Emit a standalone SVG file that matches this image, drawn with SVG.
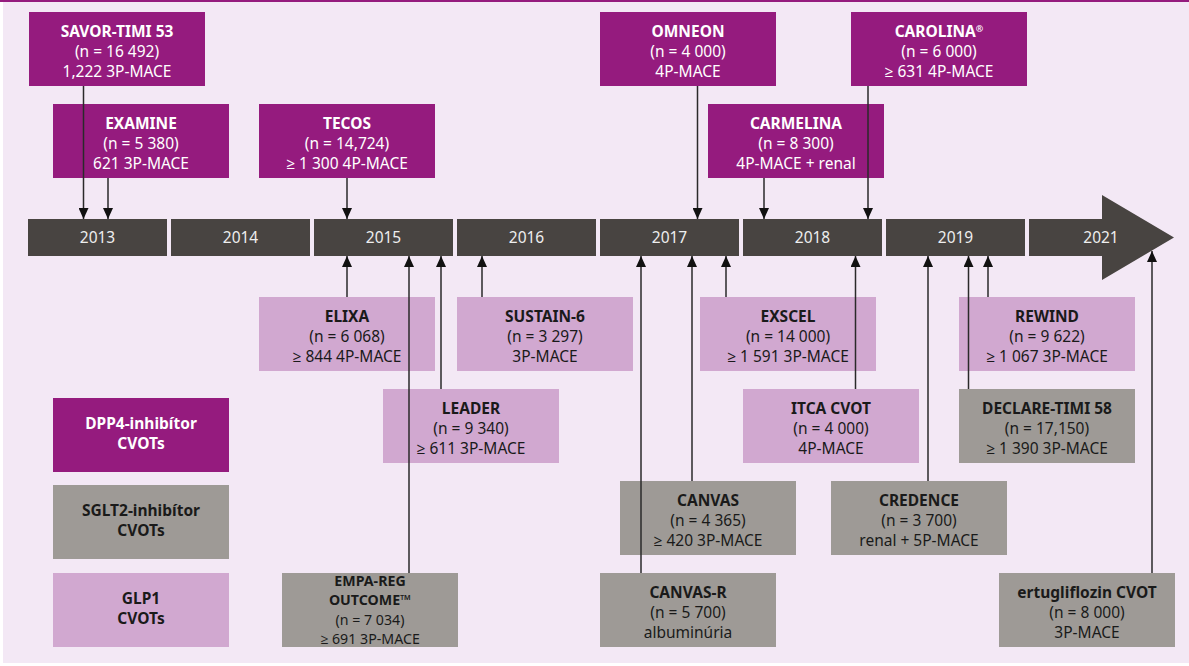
<svg xmlns="http://www.w3.org/2000/svg" width="1189" height="666" viewBox="0 0 1189 666">
<style>
text{font-family:"Noto Sans","Open Sans","Liberation Sans",sans-serif;font-size:15.5px;text-anchor:middle}
.b{font-weight:bold}
.dpp{fill:#951B7E}
.sglt{fill:#9E9A96}
.glp{fill:#D1A8D0}
.w{fill:#ffffff}
.k{fill:#1a1a1a}
.seg{fill:#484441}
.yr{fill:#eeeeee;font-size:15.5px}
.sm{font-size:14.2px}
.con line{stroke:#2a2a2a;stroke-width:1.5;marker-end:url(#ah)}
</style>
<defs>
<marker id="ah" viewBox="0 0 11 10" refX="11" refY="5" markerWidth="11" markerHeight="10" orient="auto" markerUnits="userSpaceOnUse"><path d="M0,0 L11,5 L0,10 z" fill="#111"/></marker>
</defs>
<rect x="0" y="0" width="1189" height="666" fill="#ffffff"/>
<rect x="3" y="0" width="1186" height="663" fill="#F3E8F5"/>
<rect x="0" y="0" width="1189" height="2" fill="#951B7E"/>

<g id="timeline">
<rect class="seg" x="28" y="219" width="139" height="37"/>
<rect class="seg" x="171" y="219" width="139" height="37"/>
<rect class="seg" x="314" y="219" width="139" height="37"/>
<rect class="seg" x="457" y="219" width="139" height="37"/>
<rect class="seg" x="600" y="219" width="139" height="37"/>
<rect class="seg" x="743" y="219" width="139" height="37"/>
<rect class="seg" x="886" y="219" width="139" height="37"/>
<polygon class="seg" points="1029,219 1102,219 1102,195 1174,237.5 1102,280 1102,256 1029,256"/>
<text class="yr" x="97.5" y="243">2013</text>
<text class="yr" x="240.5" y="243">2014</text>
<text class="yr" x="383.5" y="243">2015</text>
<text class="yr" x="526.5" y="243">2016</text>
<text class="yr" x="669.5" y="243">2017</text>
<text class="yr" x="812.5" y="243">2018</text>
<text class="yr" x="955.5" y="243">2019</text>
<text class="yr" x="1101" y="243">2021</text>
</g>

<g id="savor"><rect class="dpp" x="29" y="12" width="176" height="74"/>
<text class="w b" x="117" y="36.5">SAVOR-TIMI 53</text><text class="w" x="117" y="56.5">(n = 16 492)</text><text class="w" x="117" y="76.5">1,222 3P-MACE</text></g>
<g id="examine"><rect class="dpp" x="53" y="104" width="176" height="74"/>
<text class="w b" x="141" y="128.5">EXAMINE</text><text class="w" x="141" y="148.5">(n = 5 380)</text><text class="w" x="141" y="168.5">621 3P-MACE</text></g>
<g id="tecos"><rect class="dpp" x="259" y="104" width="176" height="74"/>
<text class="w b" x="347" y="128.5">TECOS</text><text class="w" x="347" y="148.5">(n = 14,724)</text><text class="w" x="347" y="168.5">≥ 1 300 4P-MACE</text></g>
<g id="omneon"><rect class="dpp" x="600" y="12" width="176" height="74"/>
<text class="w b" x="688" y="36.5">OMNEON</text><text class="w" x="688" y="56.5">(n = 4 000)</text><text class="w" x="688" y="76.5">4P-MACE</text></g>
<g id="carmelina"><rect class="dpp" x="708" y="104" width="176" height="74"/>
<text class="w b" x="796" y="128.5">CARMELINA</text><text class="w" x="796" y="148.5">(n = 8 300)</text><text class="w" x="796" y="168.5">4P-MACE + renal</text></g>
<g id="carolina"><rect class="dpp" x="851" y="12" width="176" height="74"/>
<text class="w b" x="939" y="36.5">CAROLINA<tspan font-size="9" dy="-5">®</tspan></text><text class="w" x="939" y="56.5">(n = 6 000)</text><text class="w" x="939" y="76.5">≥ 631 4P-MACE</text></g>

<g id="elixa"><rect class="glp" x="259" y="297" width="176" height="74"/>
<text class="k b" x="347" y="321.5">ELIXA</text><text class="k" x="347" y="341.5">(n = 6 068)</text><text class="k" x="347" y="361.5">≥ 844 4P-MACE</text></g>
<g id="sustain6"><rect class="glp" x="457" y="297" width="176" height="74"/>
<text class="k b" x="545" y="321.5">SUSTAIN-6</text><text class="k" x="545" y="341.5">(n = 3 297)</text><text class="k" x="545" y="361.5">3P-MACE</text></g>
<g id="leader"><rect class="glp" x="383" y="389" width="176" height="74"/>
<text class="k b" x="471" y="413.5">LEADER</text><text class="k" x="471" y="433.5">(n = 9 340)</text><text class="k" x="471" y="453.5">≥ 611 3P-MACE</text></g>
<g id="exscel"><rect class="glp" x="700" y="297" width="176" height="74"/>
<text class="k b" x="788" y="321.5">EXSCEL</text><text class="k" x="788" y="341.5">(n = 14 000)</text><text class="k" x="788" y="361.5">≥ 1 591 3P-MACE</text></g>
<g id="itca"><rect class="glp" x="743" y="389" width="176" height="74"/>
<text class="k b" x="831" y="413.5">ITCA CVOT</text><text class="k" x="831" y="433.5">(n = 4 000)</text><text class="k" x="831" y="453.5">4P-MACE</text></g>
<g id="rewind"><rect class="glp" x="959" y="297" width="176" height="74"/>
<text class="k b" x="1047" y="321.5">REWIND</text><text class="k" x="1047" y="341.5">(n = 9 622)</text><text class="k" x="1047" y="361.5">≥ 1 067 3P-MACE</text></g>
<g id="declare"><rect class="sglt" x="959" y="389" width="176" height="74"/>
<text class="k b" x="1047" y="413.5">DECLARE-TIMI 58</text><text class="k" x="1047" y="433.5">(n = 17,150)</text><text class="k" x="1047" y="453.5">≥ 1 390 3P-MACE</text></g>
<g id="canvas"><rect class="sglt" x="620" y="481" width="176" height="74"/>
<text class="k b" x="708" y="505.5">CANVAS</text><text class="k" x="708" y="525.5">(n = 4 365)</text><text class="k" x="708" y="545.5">≥ 420 3P-MACE</text></g>
<g id="credence"><rect class="sglt" x="831" y="481" width="176" height="74"/>
<text class="k b" x="919" y="505.5">CREDENCE</text><text class="k" x="919" y="525.5">(n = 3 700)</text><text class="k" x="919" y="545.5">renal + 5P-MACE</text></g>
<g id="canvasr"><rect class="sglt" x="600" y="573" width="176" height="74"/>
<text class="k b" x="688" y="597.5">CANVAS-R</text><text class="k" x="688" y="617.5">(n = 5 700)</text><text class="k" x="688" y="637.5">albuminúria</text></g>
<g id="ertugliflozin"><rect class="sglt" x="999" y="573" width="176" height="74"/>
<text class="k b" x="1087" y="597.5">ertugliflozin CVOT</text><text class="k" x="1087" y="617.5">(n = 8 000)</text><text class="k" x="1087" y="637.5">3P-MACE</text></g>
<g id="empareg"><rect class="sglt" x="282" y="573" width="176" height="74"/>
<text class="k b sm" x="370" y="585.5">EMPA-REG</text><text class="k b sm" x="370" y="605">OUTCOME™</text><text class="k sm" x="370" y="624.5">(n = 7 034)</text><text class="k sm" x="370" y="644">≥ 691 3P-MACE</text></g>

<g id="legend-dpp4"><rect class="dpp" x="53" y="398" width="176" height="74"/>
<text class="w b" x="141" y="428.5">DPP4-inhibítor</text><text class="w b" x="141" y="448.5">CVOTs</text></g>
<g id="legend-sglt2"><rect class="sglt" x="53" y="485" width="176" height="74"/>
<text class="k b" x="141" y="515.5">SGLT2-inhibítor</text><text class="k b" x="141" y="535.5">CVOTs</text></g>
<g id="legend-glp1"><rect class="glp" x="53" y="573" width="176" height="74"/>
<text class="k b" x="141" y="603.5">GLP1</text><text class="k b" x="141" y="623.5">CVOTs</text></g>

<g id="connectors" class="con">
<line x1="83.5" y1="86" x2="83.5" y2="219"/>
<line x1="108" y1="178" x2="108" y2="219"/>
<line x1="347" y1="178" x2="347" y2="219"/>
<line x1="697.5" y1="86" x2="697.5" y2="219"/>
<line x1="764" y1="178" x2="764" y2="219"/>
<line x1="868" y1="86" x2="868" y2="219"/>
<line x1="347" y1="297" x2="347" y2="256"/>
<line x1="409" y1="573" x2="409" y2="256"/>
<line x1="441" y1="389" x2="441" y2="256"/>
<line x1="482" y1="297" x2="482" y2="256"/>
<line x1="641" y1="573" x2="641" y2="256"/>
<line x1="692" y1="481" x2="692" y2="256"/>
<line x1="726" y1="297" x2="726" y2="256"/>
<line x1="855.5" y1="389" x2="855.5" y2="256"/>
<line x1="928" y1="481" x2="928" y2="256"/>
<line x1="968.5" y1="389" x2="968.5" y2="256"/>
<line x1="988" y1="297" x2="988" y2="256"/>
<line x1="1152" y1="573" x2="1152" y2="251"/>
</g>
</svg>
